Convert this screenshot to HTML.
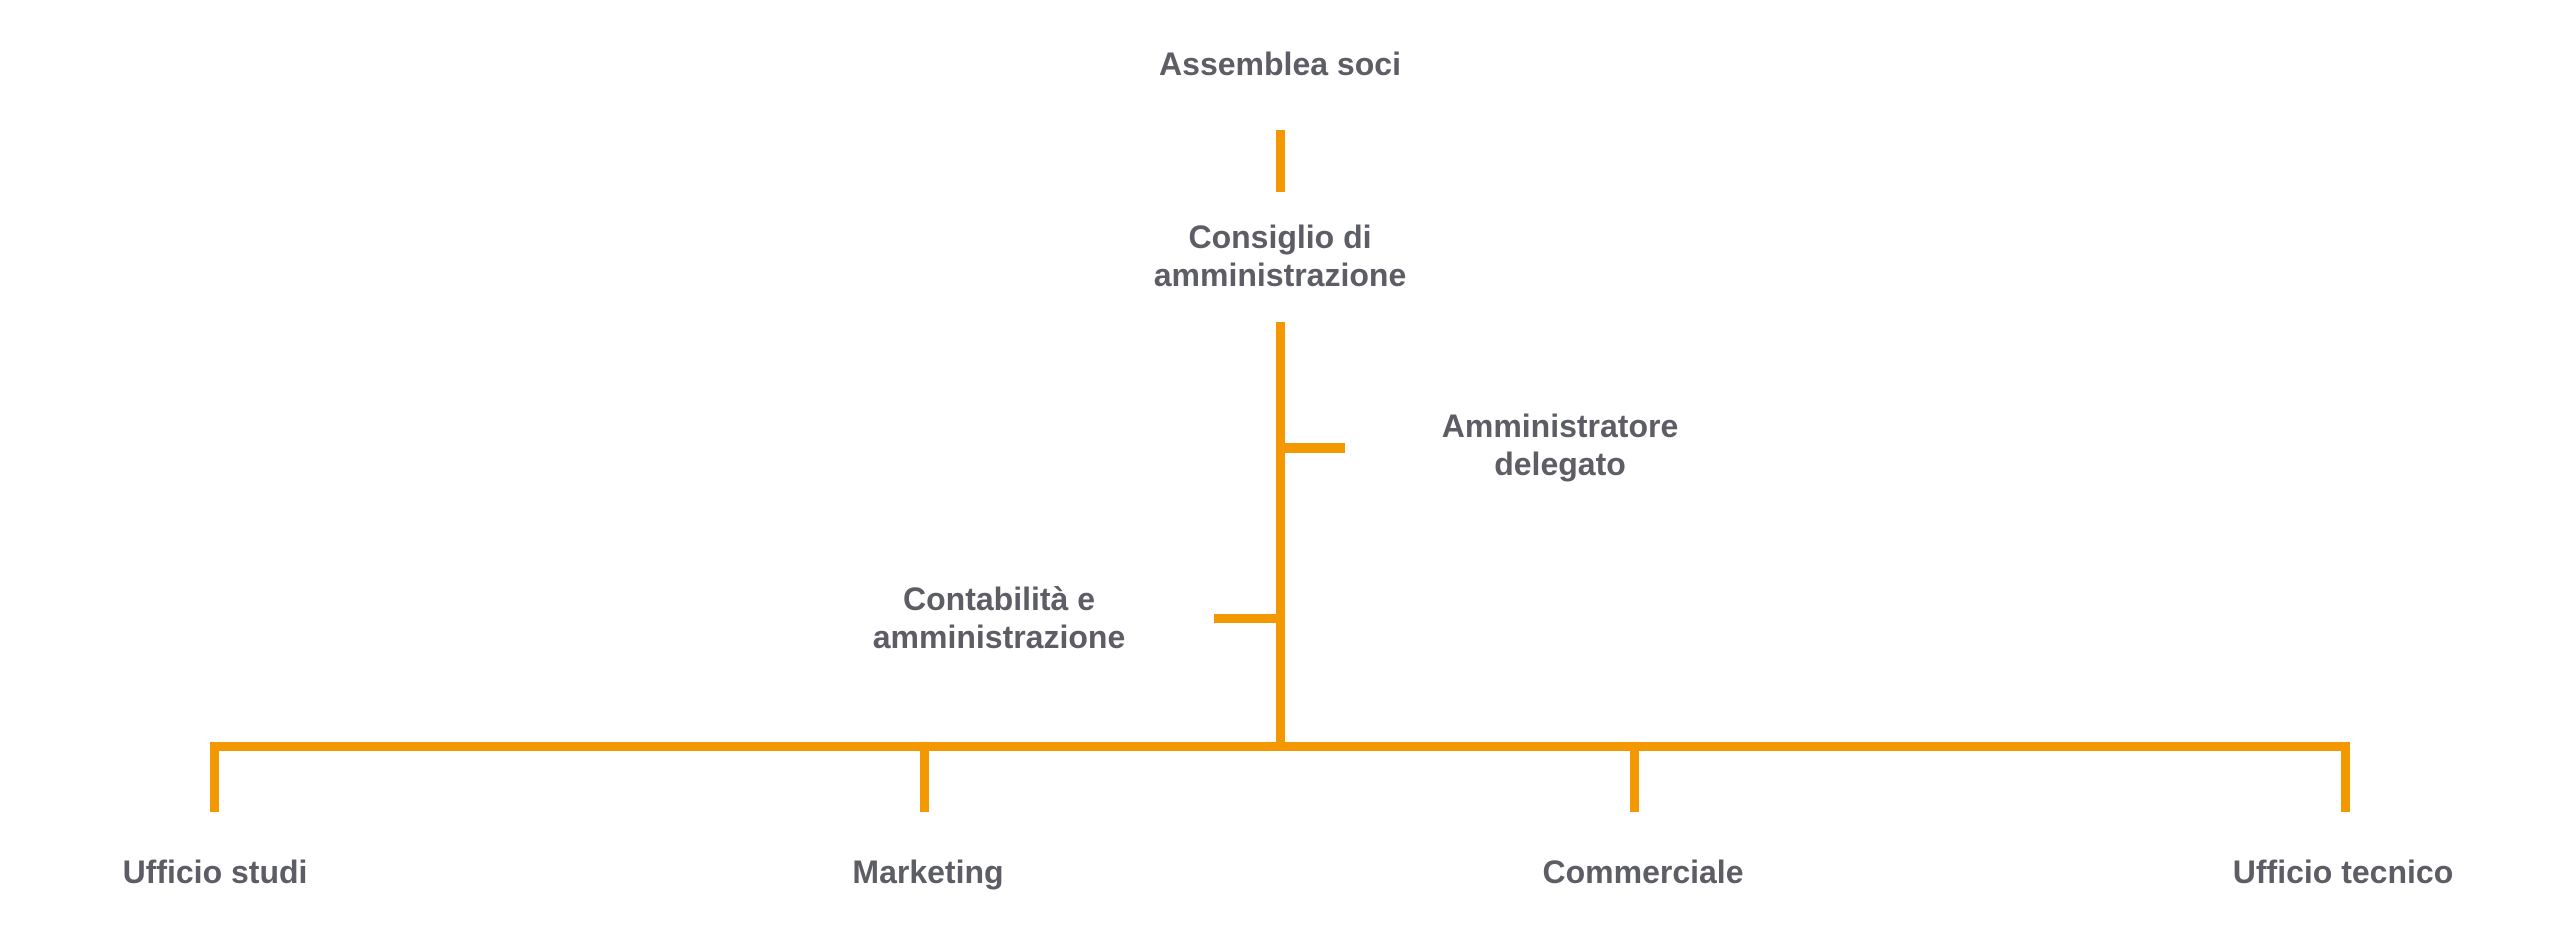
<!DOCTYPE html>
<html>
<head>
<meta charset="utf-8">
<style>
  html, body { margin: 0; padding: 0; background: #ffffff; }
  body { width: 2560px; height: 935px; overflow: hidden; }
  svg { display: block; }
  text {
    font-family: "Liberation Sans", "DejaVu Sans", sans-serif;
    font-weight: bold;
    font-size: 32px;
    fill: #5d5d65;
    text-anchor: middle;
  }
</style>
</head>
<body>
<svg width="2560" height="935" viewBox="0 0 2560 935" xmlns="http://www.w3.org/2000/svg">
  <rect x="0" y="0" width="2560" height="935" fill="#ffffff"/>

  <!-- connectors -->
  <g fill="#F39800">
    <!-- top short vertical -->
    <rect x="1276" y="130" width="9" height="62"/>
    <!-- main vertical -->
    <rect x="1276" y="322" width="9" height="429"/>
    <!-- right branch (Amministratore delegato) -->
    <rect x="1276" y="443" width="69" height="10"/>
    <!-- left branch (Contabilità) -->
    <rect x="1214" y="614" width="71" height="9"/>
    <!-- horizontal bus -->
    <rect x="210" y="742" width="2140" height="9"/>
    <!-- drops -->
    <rect x="210" y="742" width="9" height="70"/>
    <rect x="920" y="742" width="9" height="70"/>
    <rect x="1630" y="742" width="9" height="70"/>
    <rect x="2341" y="742" width="9" height="70"/>
  </g>

  <!-- labels -->
  <text x="1280" y="75">Assemblea soci</text>

  <text x="1280" y="248">Consiglio di</text>
  <text x="1280" y="286">amministrazione</text>

  <text x="1560" y="437">Amministratore</text>
  <text x="1560" y="475">delegato</text>

  <text x="999" y="610">Contabilità e</text>
  <text x="999" y="648">amministrazione</text>

  <text x="215" y="883">Ufficio studi</text>
  <text x="928" y="883">Marketing</text>
  <text x="1643" y="883">Commerciale</text>
  <text x="2343" y="883">Ufficio tecnico</text>
</svg>
</body>
</html>
